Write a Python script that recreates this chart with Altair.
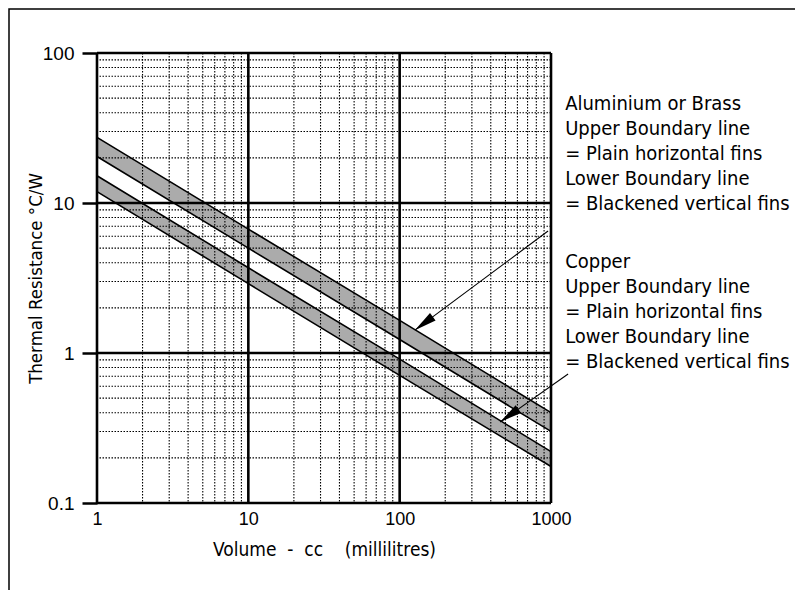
import math
import altair as alt
import pandas as pd

# ---- data ----
volume = [1, 10, 100, 1000]
al_upper = [27.4, 6.7, 1.65, 0.40]
al_lower = [20.4, 5.0, 1.23, 0.30]
cu_upper = [15.2, 3.7, 0.91, 0.22]
cu_lower = [11.9, 2.9, 0.71, 0.175]

x_ticks = [1, 10, 100, 1000]
y_ticks = [0.1, 1, 10, 100]
x_minor = [2, 3, 4, 5, 6, 7, 8, 9, 20, 30, 40, 50, 60, 70, 80, 90,
           200, 300, 400, 500, 600, 700, 800, 900]
y_minor = [0.2, 0.3, 0.4, 0.5, 0.6, 0.7, 0.8, 0.9, 2, 3, 4, 5, 6, 7, 8, 9,
           20, 30, 40, 50, 60, 70, 80, 90]

al_text = ["Aluminium or Brass", "Upper Boundary line", "= Plain horizontal fins",
           "Lower Boundary line", "= Blackened vertical fins"]
cu_text = ["Copper", "Upper Boundary line", "= Plain horizontal fins",
           "Lower Boundary line", "= Blackened vertical fins"]
annot_x = [1240, 1240]
annot_y = [41.7, 3.69]

arrow_from_x = [956, 1297]
arrow_from_y = [6.5, 0.724]
arrow_to_x = [126, 461]
arrow_to_y = [1.42, 0.347]

W, H = 454, 450
NUM_FONT = "'Liberation Sans Narrow', 'Liberation Sans', sans-serif"
TXT_FONT = "'DejaVu Sans Condensed', 'DejaVu Sans', sans-serif"

xscale = alt.Scale(type="log", domain=[1, 1000], nice=False)
yscale = alt.Scale(type="log", domain=[0.1, 100], nice=False)

X_AXIS = alt.Axis(values=x_ticks, format="~g",
                  title="Volume\u00a0\u00a0-\u00a0\u00a0cc\u00a0\u00a0\u00a0\u00a0(millilitres)",
                  grid=False, domain=False, ticks=False, tickSize=0,
                  labelPadding=7, labelFontSize=18, labelFont=NUM_FONT,
                  labelColor="black", labelFlush=False, labelOverlap=False,
                  titleFont=TXT_FONT, titleFontSize=19, titleFontWeight="normal",
                  titleColor="black", titleX=227, titleY=52,
                  titleAlign="center", titleBaseline="alphabetic")
Y_AXIS = alt.Axis(values=y_ticks, format="~g",
                  title="Thermal Resistance \u00b0C/W",
                  grid=False, domain=False, ticks=True, tickSize=15,
                  tickWidth=2.5, tickColor="black",
                  labelPadding=8, labelFontSize=19, labelFont=NUM_FONT,
                  labelColor="black", labelFlush=False, labelOverlap=False,
                  titleFont=TXT_FONT, titleFontSize=18.5, titleFontWeight="normal",
                  titleColor="black", titleX=-62, titleY=225, titleAngle=270,
                  titleAlign="center", titleBaseline="middle")


def X(field, **kw):
    return alt.X(field, type="quantitative", scale=xscale, axis=X_AXIS, **kw)


def Y(field, **kw):
    return alt.Y(field, type="quantitative", scale=yscale, axis=Y_AXIS, **kw)


# bands
band_rows = []
for mat, up, lo in (("al", al_upper, al_lower), ("cu", cu_upper, cu_lower)):
    for v, u, l in zip(volume, up, lo):
        band_rows.append({"mat": mat, "vol": v, "upper": u, "lower": l})
band_df = pd.DataFrame(band_rows)

edge_rows = []
for name, series in (("alu", al_upper), ("all", al_lower), ("cuu", cu_upper), ("cul", cu_lower)):
    for v, r in zip(volume, series):
        edge_rows.append({"edge": name, "vol": v, "r": r})
edge_df = pd.DataFrame(edge_rows)

bands = alt.Chart(band_df).mark_area(color="#ababab", opacity=1).encode(
    x=X("vol"), y=Y("upper"), y2="lower", detail="mat:N")

edges = alt.Chart(edge_df).mark_line(color="black", strokeWidth=1.6).encode(
    x=X("vol"), y=Y("r"), detail="edge:N")

minor_v = alt.Chart(pd.DataFrame({"v": x_minor})).mark_rule(
    color="black", strokeWidth=1.1, strokeDash=[1.5, 1.5]).encode(x=X("v"))
minor_h = alt.Chart(pd.DataFrame({"r": y_minor})).mark_rule(
    color="black", strokeWidth=1.1, strokeDash=[1.5, 1.5]).encode(y=Y("r"))
major_v = alt.Chart(pd.DataFrame({"v": x_ticks})).mark_rule(
    color="black", strokeWidth=2.6).encode(x=X("v"))
major_h = alt.Chart(pd.DataFrame({"r": y_ticks})).mark_rule(
    color="black", strokeWidth=2.6).encode(y=Y("r"))

# arrows
kx, ky = W / 3.0, H / 3.0
angles = []
for fx, fy, tx, ty in zip(arrow_from_x, arrow_from_y, arrow_to_x, arrow_to_y):
    dx = kx * (math.log10(tx) - math.log10(fx))
    dy = -ky * (math.log10(ty) - math.log10(fy))
    angles.append(math.degrees(math.atan2(dx, -dy)) % 360)
arrow_df = pd.DataFrame({"fx": arrow_from_x, "fy": arrow_from_y,
                         "tx": arrow_to_x, "ty": arrow_to_y, "ang": angles})

arrow_lines = alt.Chart(arrow_df).mark_rule(color="black", strokeWidth=1.1).encode(
    x=X("fx"), y=Y("fy"), x2="tx", y2="ty")
arrow_heads = alt.Chart(arrow_df).mark_point(
    shape="M0,0 L0.42,2 L-0.42,2 Z", filled=True, color="black", opacity=1,
    size=500, strokeWidth=0).encode(
    x=X("tx"), y=Y("ty"), angle=alt.Angle("ang:Q", scale=None))

# annotation text
def annot(i, lines):
    return alt.Chart(pd.DataFrame({"vx": [annot_x[i]], "ry": [annot_y[i]]})).mark_text(
        text=lines, align="left", baseline="alphabetic", lineHeight=25,
        font=TXT_FONT, fontSize=20, color="black").encode(x=X("vx"), y=Y("ry"))

# outer frame
frame = alt.Chart(pd.DataFrame({"k": [0]})).mark_rect(
    fill="transparent", stroke="black", strokeWidth=1.5).encode(
    x=alt.value(-88), x2=alt.value(W + 400), y=alt.value(-44), y2=alt.value(H + 300))

chart = alt.layer(
    frame, bands, minor_v, minor_h, major_v, major_h, edges,
    arrow_lines, arrow_heads, annot(0, al_text), annot(1, cu_text)
).properties(
    width=W, height=H,
    autosize=alt.AutoSizeParams(type="none"),
    padding={"left": 89, "top": 45, "right": 244, "bottom": 87},
    background="white",
).configure_view(strokeWidth=0)

chart.save("out.html", embed_options={"renderer": "svg", "actions": False})
